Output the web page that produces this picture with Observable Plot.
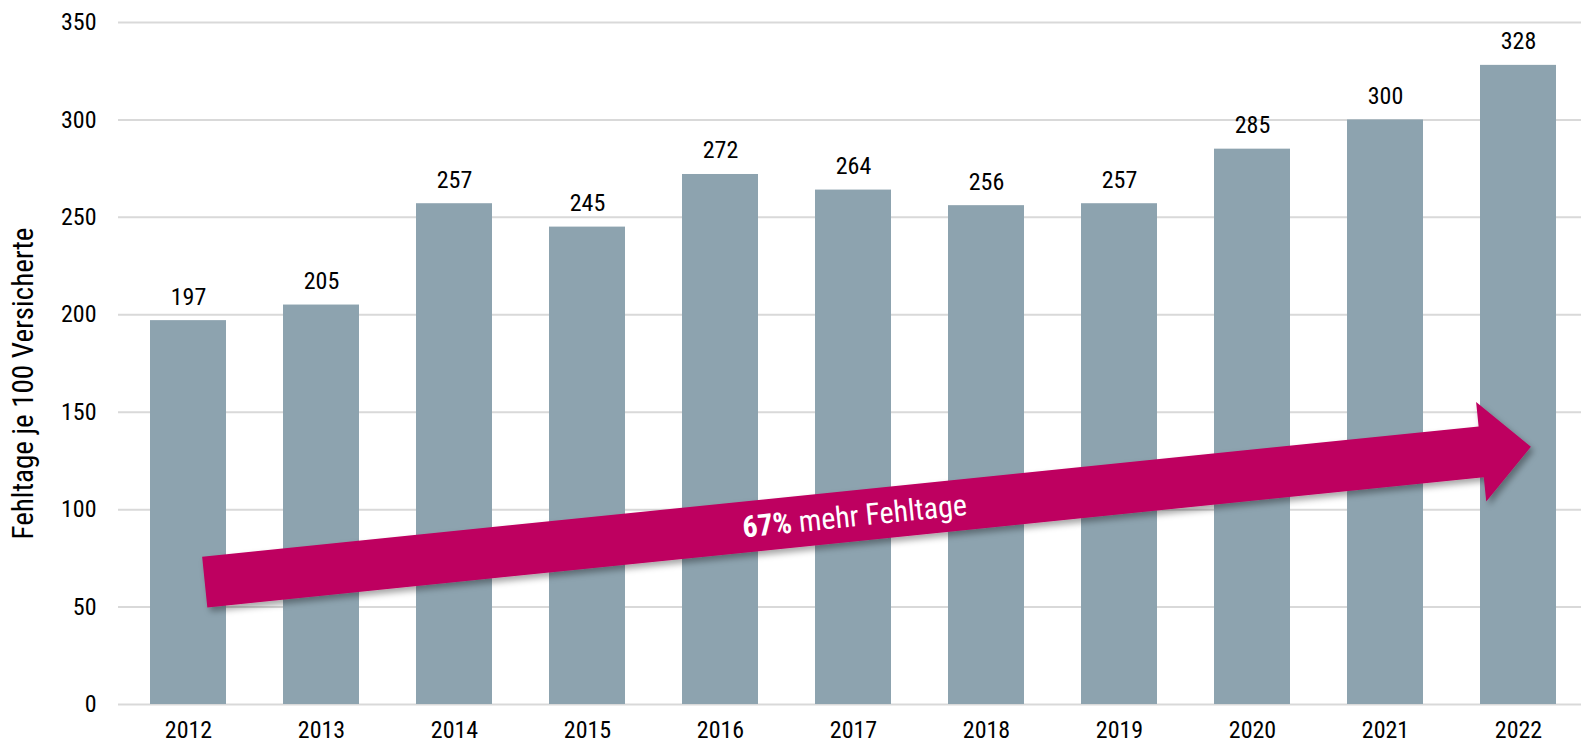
<!DOCTYPE html>
<html>
<head>
<meta charset="utf-8">
<script src="https://cdn.jsdelivr.net/npm/d3@7"></script>
<script src="https://cdn.jsdelivr.net/npm/@observablehq/plot@0.6"></script>
<style>
  html, body { margin: 0; padding: 0; background: #fff; overflow: hidden; }
  #chart svg { display: block; }
</style>
</head>
<body>
<div id="chart"></div>
<script>
// ---- data ----
const years = ["2012", "2013", "2014", "2015", "2016", "2017", "2018", "2019", "2020", "2021", "2022"];
const values = [197, 205, 257, 245, 272, 264, 256, 257, 285, 300, 328];
const yTicks = [0, 50, 100, 150, 200, 250, 300, 350];
const yTitle = "Fehltage je 100 Versicherte";
const arrowLabelBold = "67%";
const arrowLabelRest = " mehr Fehltage";
// arrow anchors in data space (year band, value)
const arrowFrom = { year: "2012", value: 62.6 };
const arrowTo = { year: "2022", value: 132 };

const table = years.map((year, i) => ({ year, value: values[i] }));

const FONT = "'Liberation Sans Narrow', 'Arial Narrow', 'Roboto Condensed', 'Liberation Sans', Arial, sans-serif";
const barColor = "#8DA3AF";
const arrowColor = "#BE0060";

function arrowMark(index, scales, values, dimensions, context) {
  const x = scales.x, y = scales.y;
  const bw = x.bandwidth();
  const x0 = x(arrowFrom.year) + bw * 0.72, y0 = y(arrowFrom.value);
  const x1 = x(arrowTo.year) + bw * 0.67, y1 = y(arrowTo.value);
  const dx = x1 - x0, dy = y1 - y0, L = Math.hypot(dx, dy);
  const ux = dx / L, uy = dy / L, nx = -uy, ny = ux;
  const h = 25.5, H = 50, headLen = 50;
  const bx = x1 - ux * headLen, by = y1 - uy * headLen;
  const pts = [
    [x0 + nx * h, y0 + ny * h],
    [bx + nx * h, by + ny * h],
    [bx + nx * H, by + ny * H],
    [x1, y1],
    [bx - nx * H, by - ny * H],
    [bx - nx * h, by - ny * h],
    [x0 - nx * h, y0 - ny * h]
  ];
  const g = d3.create("svg:g");
  const defs = g.append("defs");
  const f = defs.append("filter").attr("id", "arrowShadow").attr("x", "-10%").attr("y", "-50%").attr("width", "120%").attr("height", "200%");
  f.append("feDropShadow").attr("dx", 3).attr("dy", 4).attr("stdDeviation", 3).attr("flood-color", "#000").attr("flood-opacity", 0.35);
  g.append("polygon")
    .attr("points", pts.map(p => p.join(",")).join(" "))
    .attr("fill", arrowColor)
    .attr("filter", "url(#arrowShadow)");
  const t = 0.49;
  const tx = x0 + dx * t, ty = y0 + dy * t;
  const ang = Math.atan2(dy, dx) * 180 / Math.PI;
  const txt = g.append("text")
    .attr("transform", `translate(${tx},${ty}) rotate(${ang})`)
    .attr("text-anchor", "middle")
    .attr("dy", "0.35em")
    .attr("fill", "#fff")
    .attr("font-family", FONT)
    .attr("font-size", 30);
  txt.append("tspan").attr("font-weight", "bold").text(arrowLabelBold);
  txt.append("tspan").text(arrowLabelRest);
  return g.node();
}

const chart = Plot.plot({
  width: 1581,
  height: 745,
  marginTop: 22,
  marginBottom: 41,
  marginLeft: 118,
  marginRight: -7,
  style: { fontFamily: FONT, fontSize: "24px", color: "#000", background: "#fff" },
  x: { domain: years, paddingInner: 0.43, paddingOuter: 0.215, label: null },
  y: { domain: [0, 350], label: null },
  marks: [
    Plot.gridY(yTicks, { stroke: "#D9D9D9", strokeOpacity: 1, strokeWidth: 2 }),
    Plot.barY(table, { x: "year", y: "value", fill: barColor }),
    Plot.text(table, { x: "year", y: "value", text: d => String(d.value), dy: -16, lineAnchor: "bottom", fill: "#000", fontSize: 24 }),
    Plot.axisX({ tickSize: 0, tickPadding: 16, fontSize: 24, label: null }),
    Plot.axisY(yTicks, { tickSize: 0, tickPadding: 22, fontSize: 24, label: null }),
    Plot.text([yTitle], { frameAnchor: "left", text: d => d, rotate: -90, textAnchor: "middle", dx: -95, dy: 20, fontSize: 29, fill: "#000" }),
    arrowMark
  ]
});
document.getElementById("chart").appendChild(chart);
</script>
</body>
</html>
